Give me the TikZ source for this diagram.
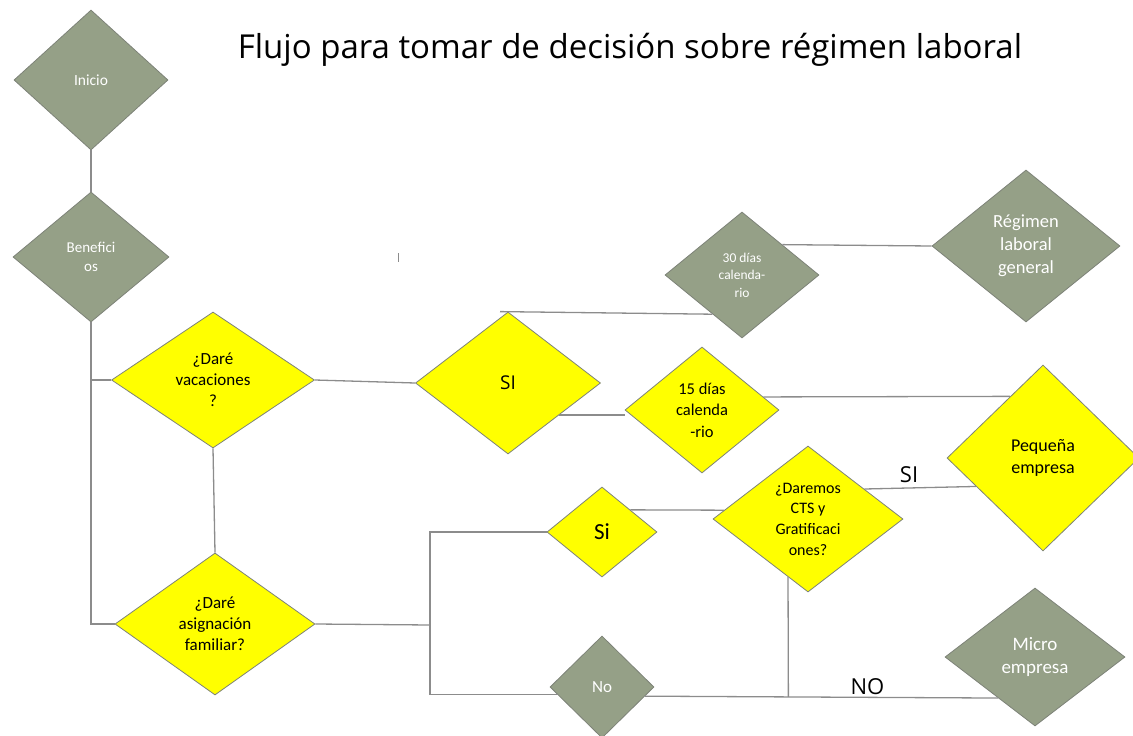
\documentclass[tikz,border=0pt]{standalone}
\usepackage{fontspec}
\setmainfont{Carlito}
\newfontfamily\titulofont{Open Sans}
\usetikzlibrary{shapes.geometric}
\definecolor{grisverde}{RGB}{149,160,135}
\definecolor{amarillo}{RGB}{255,255,0}
\definecolor{borde}{RGB}{125,130,120}
\definecolor{linea}{RGB}{140,140,140}
\tikzset{
  rombo/.style={diamond, aspect=1.3, draw=borde, line width=0.8pt, inner sep=0pt, align=center},
  gris/.style={rombo, fill=grisverde, text=white},
  amar/.style={rombo, fill=amarillo, text=black},
  conector/.style={draw=linea, line width=1.3pt},
  etiqueta/.style={font=\titulofont\fontsize{22}{26}\selectfont, text=black},
}
\begin{document}
\begin{tikzpicture}[x=1pt,y=-1pt]
\useasboundingbox (0,0) rectangle (1133,736);
    % Titulo
    \node[font=\titulofont\fontsize{33}{40}\selectfont] (titulo) at (630,50) {Flujo para tomar de decisión sobre régimen laboral};
    % Columna izquierda
    \node[gris, minimum width=154pt, minimum height=140pt, font=\fontsize{15.5}{19}\selectfont] (inicio) at (91,80) {Inicio};
    \node[gris, minimum width=156pt, minimum height=130pt, font=\fontsize{15}{19}\selectfont] (benef) at (91,257) {Benefici\\os};
    \node[amar, minimum width=203pt, minimum height=136pt, font=\fontsize{17}{21}\selectfont] (vac) at (213,380) {¿Daré\\vacaciones\\?};
    \node[amar, minimum width=200pt, minimum height=142pt, font=\fontsize{17}{21}\selectfont] (asig) at (215,624) {¿Daré\\asignación\\familiar?};
    % Rama de vacaciones
    \node[amar, minimum width=185pt, minimum height=142pt, font=\titulofont\fontsize{19}{24}\selectfont] (si) at (508,383) {SI};
    \node[gris, minimum width=154pt, minimum height=126pt, font=\fontsize{13.5}{17.5}\selectfont] (d30) at (742,275) {30 días\\calenda-\\rio};
    \node[amar, minimum width=154pt, minimum height=126pt, font=\fontsize{16.5}{21.5}\selectfont] (d15) at (702,410) {15 días\\calenda\\-rio};
    \node[gris, minimum width=188pt, minimum height=152pt, font=\fontsize{18.5}{23}\selectfont] (reg) at (1026,246) {Régimen\\laboral\\general};
    \node[amar, minimum width=192pt, minimum height=186pt, font=\fontsize{18}{22}\selectfont] (peq) at (1043,458) {Pequeña\\empresa};
    % Rama de asignacion familiar
    \node[amar, minimum width=110pt, minimum height=90pt, font=\fontsize{23}{26}\selectfont] (si2) at (602,532) {Si};
    \node[gris, minimum width=104pt, minimum height=102pt, font=\fontsize{17}{20}\selectfont] (no) at (602,687) {No};
    \node[amar, minimum width=190pt, minimum height=146pt, font=\fontsize{16}{20.7}\selectfont] (dar) at (808,519) {¿Daremos\\CTS y\\Gratificaci\\ones?};
    \node[gris, minimum width=180pt, minimum height=138pt, font=\fontsize{19}{23}\selectfont] (mic) at (1035,657) {Micro\\empresa};
    % Conectores
    \draw[conector] (inicio.south) -- (benef.north);
    \draw[conector] (benef.south) |- (vac.west);
    \draw[conector] (benef.south) |- (asig.west);
    \draw[conector] (vac.south) -- (asig.north);
    \draw[conector] (vac.east) -- (si.west);
    \draw[conector] ([xshift=-8pt]si.north) -- (d30.233);
    \draw[conector] (d30.37) -- (reg.west);
    \draw[conector] (si.-32) -- (si.-32 -| d15.west);
    \draw[conector] (d15.12) -- (peq.118);
    \coordinate (split) at (430,625);
    \draw[conector] (asig.east) -- (split);
    \draw[conector] (si2.west) -| (split) |- (no.190);
    \draw[conector] (si2.38) -- (dar.174);
    \draw[conector] (dar.28) -- node[pos=0.4, above=1pt, etiqueta] (etsi) {SI} (peq.203);
    \draw[conector] (no.-12) -- coordinate[pos=0.406] (meet) node[pos=0.63, above=-1pt, etiqueta] (etno) {NO} (mic.228);
    \draw[conector] (dar.251) -- (meet);
    % marca suelta
    \draw[linea, line width=1pt] (398,253) -- (398,262);
\end{tikzpicture}
\end{document}
